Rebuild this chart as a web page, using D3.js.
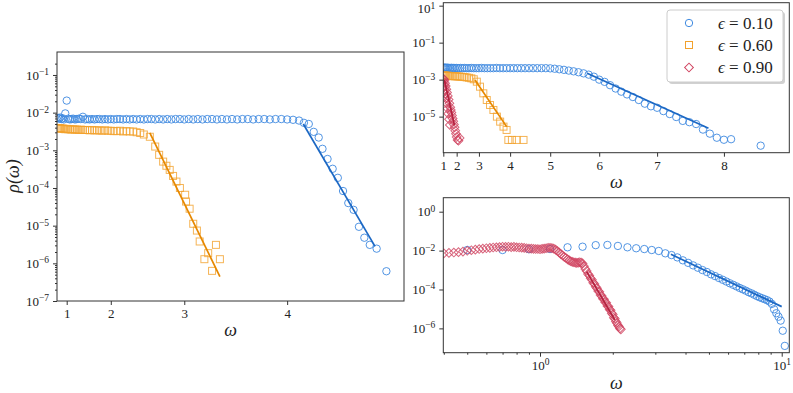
<!DOCTYPE html>
<html><head><meta charset="utf-8">
<script src="https://cdn.jsdelivr.net/npm/d3@7"></script>
<style>
body{margin:0;background:#fff}
svg{display:block}
text{font-family:"Liberation Serif","DejaVu Serif",serif;fill:#222}
</style>
</head><body>
<svg id="c" width="793" height="393" font-family="Liberation Serif, serif"></svg>
<script>
// ---------------- DATA (omega, and log10 of rho) ----------------
// Left panel, epsilon = 0.10
const leftBlueOmega = [0.65,0.70,0.75,0.80,0.85,0.90,0.95,1.00,1.05,1.10,1.15,1.20,1.25,1.30,1.35,1.40,1.45,1.50,1.55,1.60,1.65,1.70,1.75,1.80,1.85,1.90,1.95,2.00,2.05,2.10,2.15,2.20,2.25,2.30,2.35,2.40,2.45,2.50,2.55,2.60,2.65,2.70,2.75,2.80,2.85,2.90,2.95,3.00,3.05,3.10,3.15,3.20,3.25,3.30,3.35,3.40,3.45,3.50,3.55,3.60,3.65,3.70,3.75,3.80,3.85,3.90,3.95,4.00,4.05,4.10,4.14,4.18,4.22,4.26,4.29,4.33,4.37,4.41,4.45,4.49,4.53,4.57,4.61,4.65,4.70,4.77];
const leftBlueLogRho = [-2.14,-2.16,-2.13,-2.17,-2.15,-2.18,-2.02,-1.68,-2.16,-2.18,
 -2.17,-2.16,-2.18,-2.17,-2.16,-2.17,-2.11,-2.18,-2.17,-2.18,
 -2.17,-2.18,-2.17,-2.17,-2.18,-2.17,-2.18,-2.17,-2.18,-2.17,
 -2.17,-2.18,-2.17,-2.18,-2.17,-2.18,-2.17,-2.18,-2.17,-2.17,
 -2.18,-2.17,-2.18,-2.17,-2.18,-2.17,-2.17,-2.18,-2.17,-2.18,
 -2.17,-2.18,-2.17,-2.17,-2.18,-2.17,-2.18,-2.17,-2.18,-2.17,
 -2.17,-2.18,-2.17,-2.17,-2.18,-2.17,-2.17,-2.18,-2.19,-2.21,
 -2.27,-2.30,-2.51,-2.66,-2.96,-3.23,-3.49,-3.73,-4.08,-4.40,-4.58,-5.03,-5.32,-5.51,-5.61,-6.21];
const leftBlueFitOmega = [4.135, 4.688];
const leftBlueFitLogRho = [-2.30, -5.55];

// Left panel, epsilon = 0.60
const leftOrangeOmega = [0.65,0.70,0.75,0.80,0.85,0.90,0.95,1.00,1.05,1.10,1.15,1.20,1.25,1.30,1.35,1.40,1.45,1.50,1.55,1.60,1.65,1.70,1.75,1.80,1.85,1.90,1.95,2.00,2.05,2.10,2.15,2.20,2.25,2.30,2.35,2.40,2.45,2.50,2.58,2.65,2.70,2.75,2.79,2.83,2.87,2.91,2.95,3.01,3.02,3.06,3.10,3.14,3.17,3.22,3.26,3.30,3.34,3.38];
const leftOrangeLogRho = [-2.41,-2.42,-2.41,-2.43,-2.42,-2.43,-2.44,-2.43,-2.44,-2.44,
 -2.45,-2.44,-2.45,-2.45,-2.46,-2.45,-2.46,-2.46,-2.46,-2.47,
 -2.46,-2.47,-2.47,-2.47,-2.48,-2.47,-2.48,-2.48,-2.49,-2.49,
 -2.48,-2.50,-2.49,-2.50,-2.50,-2.52,-2.54,-2.58,
 -2.64,-2.90,-3.12,-3.30,-3.41,-3.52,-3.68,-3.83,-4.00,-4.18,-4.36,-4.55,-4.95,-5.13,-5.42,-5.89,-5.73,-6.20,-5.51,-5.89];
const leftOrangeFitOmega = [2.58, 3.38];
const leftOrangeFitLogRho = [-2.54, -6.35];

// Top-right panel
const trBlueOmega = [1.0,1.1,1.2,1.3,1.4,1.5,1.6,1.7,1.8,1.9,2.0,2.1,2.2,2.3,2.4,2.5,2.6,2.7,2.8,2.9,3.0,3.1,3.2,3.3,3.4,3.5,3.6,3.7,3.8,3.9,4.0,4.1,4.2,4.3,4.4,4.5,4.6,4.7,4.8,4.9,5.0,5.1,5.2,5.3,5.4,5.5,5.6,5.7,5.8,5.9,6.0,6.1,6.2,6.3,6.4,6.5,6.6,6.7,6.8,6.9,7.0,7.1,7.2,7.3,7.4,7.5,7.6,7.7,7.8,7.9,8.0,8.1,8.5];
const trBlueLogRho = [-2.35,-2.35,-2.36,-2.35,-2.36,-2.36,-2.37,-2.36,-2.37,-2.37,
 -2.37,-2.38,-2.37,-2.38,-2.37,-2.38,-2.38,-2.37,-2.38,-2.38,
 -2.38,-2.37,-2.38,-2.38,-2.38,-2.38,-2.37,-2.38,-2.38,-2.38,
 -2.38,-2.38,-2.38,-2.38,-2.38,-2.38,-2.38,-2.38,-2.38,-2.38,
 -2.39,-2.41,-2.44,-2.47,-2.51,-2.55,-2.60,-2.66,-2.73,-2.84,
 -3.00,-3.12,-3.30,-3.48,-3.65,-3.80,-3.94,-4.10,-4.30,-4.44,
 -4.52,-4.70,-4.86,-5.02,-5.23,-5.30,-5.40,-5.70,-5.92,-6.14,
 -6.25,-6.22,-6.57];
const trBlueFitOmega = [5.77, 7.78];
const trBlueFitLogRho = [-2.65, -5.63];

const trOrangeOmega = [1.0,1.1,1.2,1.3,1.4,1.5,1.6,1.7,1.8,1.9,2.0,2.1,2.2,2.3,2.4,2.5,2.6,2.7,2.8,2.92,3.04,3.16,3.28,3.39,3.50,3.61,3.71,3.81,3.90,3.95,4.05,4.18,4.36];
const trOrangeLogRho = [-2.77,-2.78,-2.78,-2.79,-2.79,-2.80,-2.80,-2.81,-2.81,-2.82,-2.82,-2.83,-2.84,-2.85,-2.86,-2.88,-2.90,-2.93,-2.98,
 -3.11,-3.38,-3.74,-4.10,-4.37,-4.64,-5.00,-5.27,-5.54,-5.72,-6.26,-6.26,-6.26,-6.26];
const trOrangeFitOmega = [2.85, 3.90];
const trOrangeFitLogRho = [-3.02, -5.54];

const trRedOmega = [1.00,1.03,1.06,1.09,1.12,1.15,1.18,1.21,1.24,1.27,1.30,1.33,1.36,1.39,1.42,1.45,1.48,1.51,1.54,1.57,1.60,1.64,1.68,1.72,1.76,1.80,1.84,1.88,1.92,1.96,2.00,2.05,2.10,2.16];
const trRedLogRho = [-2.95,-3.10,-2.98,-3.31,-3.03,-3.54,-3.19,-3.77,-3.35,-4.02,-3.52,-4.28,-3.70,-4.56,-3.88,-4.84,-4.08,-5.14,-4.28,-5.45,-4.49,-4.64,-4.78,-4.94,-5.10,-5.25,-5.42,-5.58,-5.76,-5.93,-6.10,-6.26,-6.30,-6.15];
const trRedFitOmega = [1.115, 1.875];
const trRedFitLogRho = [-3.02, -5.48];

// Bottom-right panel (log-log)
const brBlueOmega = [0.5,0.7,0.9,1.1,1.3,1.5,1.7,1.9,2.1,2.3,2.5,2.7,2.9,3.1,3.3,3.5,3.7,3.9,4.1,4.3,4.5,4.7,4.9,5.1,5.3,5.5,5.7,5.9,6.1,6.3,6.5,6.7,6.9,7.1,7.3,7.5,7.7,7.9,8.1,8.3,8.5,8.7,8.9,9.1,9.3,9.5,9.7,9.9,10.1,10.3];
const brBlueLogRho = [-1.97,-1.97,-1.93,-1.92,-1.83,-1.80,-1.72,-1.71,-1.76,-1.83,
 -1.88,-1.92,-1.97,-2.02,-2.14,-2.23,-2.35,-2.50,-2.63,-2.76,
 -2.88,-3.00,-3.10,-3.22,-3.31,-3.41,-3.50,-3.59,-3.68,-3.76,
 -3.84,-3.92,-3.99,-4.06,-4.14,-4.20,-4.27,-4.34,-4.40,-4.45,
 -4.50,-4.55,-4.62,-4.74,-5.02,-5.22,-5.40,-5.60,-6.12,-6.90];
const brBlueFitOmega = [3.48, 10.0];
const brBlueFitLogRho = [-2.19, -4.88];

const brRedOmega = [0.40,0.42,0.44,0.46,0.48,0.50,0.52,0.54,0.56,0.58,0.60,0.62,0.64,0.66,0.68,0.70,0.72,0.74,0.76,0.78,0.80,0.82,0.84,0.86,0.88,0.90,0.92,0.94,0.96,0.98,1.00,1.02,1.04,1.06,1.08,1.10,1.12,1.14,1.16,1.18,1.20,1.22,1.24,1.26,1.28,1.30,1.32,1.34,1.36,1.38,1.40,1.42,1.44,1.46,1.48,1.50,1.52,1.54,1.56,1.58,1.60,1.62,1.64,1.66,1.68,1.70,1.72,1.74,1.76,1.78,1.80,1.82,1.84,1.86,1.88,1.90,1.92,1.94,1.96,1.98,2.00,2.02,2.04,2.06,2.08,2.10,2.12,2.14,2.16];
const brRedLogRho = [-2.14,-2.12,-2.10,-2.08,-2.05,-2.01,-1.98,-1.95,-1.92,-1.90,
 -1.88,-1.86,-1.84,-1.83,-1.82,-1.80,-1.81,-1.80,-1.82,-1.81,
 -1.83,-1.84,-1.85,-1.86,-1.88,-1.89,-1.90,-1.91,-1.92,-1.92,
 -1.93,-1.91,-1.90,-1.88,-1.86,-1.86,-1.87,-1.90,-1.95,-2.02,
 -2.10,-2.18,-2.25,-2.32,-2.38,-2.45,-2.50,-2.55,-2.58,-2.60,
 -2.62,-2.63,-2.62,-2.60,-2.62,-2.66,-2.80,-2.95,-3.05,-3.20,
 -3.28,-3.42,-3.50,-3.65,-3.72,-3.86,-3.93,-4.08,-4.12,-4.28,
 -4.33,-4.47,-4.50,-4.65,-4.68,-4.85,-4.88,-5.03,-5.07,-5.22,
 -5.28,-5.45,-5.50,-5.65,-5.72,-5.84,-5.90,-6.00,-6.05];
const brRedFitOmega = [1.56, 2.04];
const brRedFitLogRho = [-3.08, -5.57];

const legendLabels = ["0.10", "0.60", "0.90"];
const leftYTicks = [1e-1,1e-2,1e-3,1e-4,1e-5,1e-6,1e-7];
const leftXTicks = [1,2,3,4];
const trYTicks = [1e1,1e-1,1e-3,1e-5];
const trXTicks = [1,2,3,4,5,6,7,8];
const brYTicks = [1,1e-2,1e-4,1e-6];
const brXTicks = [1,10];

// ---------------- STYLE ----------------
const COL = {
  blue:"#3f8ae0", blueLine:"#1c68c4",
  orange:"#f2a12c", orangeLine:"#e68800",
  red:"#d0425f", redLine:"#b3203e"
};
const SERIF = '"Liberation Serif","DejaVu Serif",serif';
const svg = d3.select("#c");
const pts = (om, lr) => om.map((w,i)=>({w, r: Math.pow(10, lr[i])}));

function powLabel(sel){
  sel.each(function(d){
    const e = Math.round(Math.log10(d));
    const t = d3.select(this);
    t.text(null);
    t.append("tspan").text("10");
    t.append("tspan").attr("dy","-0.5em").attr("font-size","9.5px").text(e<0 ? "\u2212"+(-e) : String(e));
  });
}

function panel(o){
  const g = svg.append("g");
  const id = "clip"+o.name;
  svg.append("clipPath").attr("id",id).append("rect")
    .attr("x",o.x0).attr("y",o.y0).attr("width",o.x1-o.x0).attr("height",o.y1-o.y0);
  const plot = g.append("g").attr("clip-path",`url(#${id})`);
  // axes
  const yAx = g.append("g").attr("transform",`translate(${o.x0},0)`)
    .call(d3.axisLeft(o.ys).tickValues(o.yTicks).tickSize(4).tickPadding(4));
  yAx.attr("font-family",SERIF);
  yAx.selectAll(".tick text").attr("font-size","13px").attr("font-family",SERIF).call(powLabel);
  if (o.yLabelShift) yAx.selectAll(".tick text").filter(d=>d===o.yLabelShift.v).attr("dy",o.yLabelShift.dy);
  if (o.yMinor){
    g.append("g").attr("transform",`translate(${o.x0},0)`)
      .call(d3.axisLeft(o.ys).tickValues(o.yMinor).tickSize(2).tickFormat(""))
      .select(".domain").remove();
  }
  const xAxis = d3.axisBottom(o.xs).tickValues(o.xTicks).tickSize(4).tickPadding(4);
  if (!o.xPow) xAxis.tickFormat(d3.format("d"));
  const xAx = g.append("g").attr("transform",`translate(0,${o.y1})`).call(xAxis);
  xAx.attr("font-family",SERIF);
  xAx.selectAll(".tick text").attr("font-size","13px").attr("font-family",SERIF);
  if (o.xPow) xAx.selectAll(".tick text").call(powLabel);
  if (o.xMinor){
    g.append("g").attr("transform",`translate(0,${o.y1})`)
      .call(d3.axisBottom(o.xs).tickValues(o.xMinor).tickSize(2).tickFormat(""))
      .select(".domain").remove();
  }
  g.selectAll(".domain").remove();
  g.selectAll(".tick line").attr("stroke","#333");
  // frame
  g.append("rect").attr("x",o.x0).attr("y",o.y0).attr("width",o.x1-o.x0).attr("height",o.y1-o.y0)
    .attr("fill","none").attr("stroke","#333").attr("stroke-width",1);
  // x label
  g.append("text").attr("x",(o.x0+o.x1)/2).attr("y",o.xLabelY).attr("text-anchor","middle")
    .attr("font-size","18px").attr("font-style","italic").text("\u03c9");
  return plot;
}

function circles(plot, data, xs, ys, color){
  plot.append("g").selectAll("circle").data(data).join("circle")
    .attr("cx",d=>xs(d.w)).attr("cy",d=>ys(d.r)).attr("r",3.7)
    .attr("fill","none").attr("stroke",color).attr("stroke-width",1).attr("stroke-opacity",0.9);
}
function squares(plot, data, xs, ys, color){
  const s = 7;
  plot.append("g").selectAll("rect").data(data).join("rect")
    .attr("x",d=>xs(d.w)-s/2).attr("y",d=>ys(d.r)-s/2).attr("width",s).attr("height",s)
    .attr("fill","none").attr("stroke",color).attr("stroke-width",1).attr("stroke-opacity",0.8);
}
function diamonds(plot, data, xs, ys, color){
  const sym = d3.symbol(d3.symbolSquare, 38);
  plot.append("g").selectAll("path").data(data).join("path")
    .attr("d",sym).attr("transform",d=>`translate(${xs(d.w)},${ys(d.r)}) rotate(45)`)
    .attr("fill","none").attr("stroke",color).attr("stroke-width",1).attr("stroke-opacity",0.8);
}
function fit(plot, data, xs, ys, color){
  plot.append("path").datum(data)
    .attr("d", d3.line().x(d=>xs(d.w)).y(d=>ys(d.r)))
    .attr("fill","none").attr("stroke",color).attr("stroke-width",1.7);
}

function logMinor(lo, hi){ // minor tick positions 2..9 x 10^k
  const v=[]; for(let k=lo;k<hi;k++) for(let m=2;m<=9;m++) v.push(m*Math.pow(10,k)); return v;
}

// ---------------- LEFT PANEL ----------------
{
  const xs = d3.scalePow().exponent(2).domain([0.583, 4.894]).range([57,404]);
  const ys = d3.scaleLog().domain([1e-7, Math.pow(10,-0.39)]).range([301,52]);
  const plot = panel({name:"L", x0:57,x1:404,y0:52,y1:301, xs, ys,
    yTicks:leftYTicks, xTicks:leftXTicks, yMinor:logMinor(-7,-1).concat([2e-1]), xLabelY:336});
  squares(plot, pts(leftOrangeOmega,leftOrangeLogRho), xs, ys, COL.orange);
  circles(plot, pts(leftBlueOmega,leftBlueLogRho), xs, ys, COL.blue);
  fit(plot, pts(leftOrangeFitOmega,leftOrangeFitLogRho), xs, ys, COL.orangeLine);
  fit(plot, pts(leftBlueFitOmega,leftBlueFitLogRho), xs, ys, COL.blueLine);
  svg.append("text").attr("transform","translate(19,176) rotate(-90)").attr("text-anchor","middle")
    .attr("font-size","18px").attr("font-style","italic").text("\u03c1(\u03c9)");
}

// ---------------- TOP-RIGHT PANEL ----------------
{
  const xs = d3.scalePow().exponent(2).domain([1, 8.87]).range([443.3,789.3]);
  const ys = d3.scaleLog().domain([Math.pow(10,-6.95), Math.pow(10,1.16)]).range([152.7,2.7]);
  const plot = panel({name:"TR", x0:443.3,x1:789.3,y0:2.7,y1:152.7, xs, ys,
    yTicks:trYTicks, xTicks:trXTicks, xLabelY:188, yLabelShift:{v:1e1, dy:"0.55em"}});
  circles(plot, pts(trBlueOmega,trBlueLogRho), xs, ys, COL.blue);
  squares(plot, pts(trOrangeOmega,trOrangeLogRho), xs, ys, COL.orange);
  diamonds(plot, pts(trRedOmega,trRedLogRho), xs, ys, COL.red);
  fit(plot, pts(trBlueFitOmega,trBlueFitLogRho), xs, ys, COL.blueLine);
  fit(plot, pts(trOrangeFitOmega,trOrangeFitLogRho), xs, ys, COL.orangeLine);
  fit(plot, pts(trRedFitOmega,trRedFitLogRho), xs, ys, COL.redLine);

  // legend
  const lg = svg.append("g");
  lg.append("rect").attr("x",669).attr("y",12).attr("width",116).attr("height",72).attr("rx",3)
    .attr("fill","#999").attr("opacity",0.45);
  lg.append("rect").attr("x",667).attr("y",10).attr("width",116).attr("height",72).attr("rx",3)
    .attr("fill","#fff").attr("stroke","#ccc").attr("stroke-width",1);
  const rows = [23,45,67.5];
  const cols = [COL.blue, COL.orange, COL.red];
  rows.forEach((y,i)=>{
    const mx = 689;
    if (i===0) lg.append("circle").attr("cx",mx).attr("cy",y).attr("r",3.7).attr("fill","none").attr("stroke",cols[i]);
    if (i===1) lg.append("rect").attr("x",mx-3.5).attr("y",y-3.5).attr("width",7).attr("height",7).attr("fill","none").attr("stroke",cols[i]);
    if (i===2) lg.append("path").attr("d",d3.symbol(d3.symbolSquare,38)()).attr("transform",`translate(${mx},${y}) rotate(45)`).attr("fill","none").attr("stroke",cols[i]);
    const t = lg.append("text").attr("x",718).attr("y",y+5.5).attr("font-size","17px");
    t.append("tspan").attr("font-style","italic").text("\u03f5");
    t.append("tspan").text(" = " + legendLabels[i]);
  });
}

// ---------------- BOTTOM-RIGHT PANEL ----------------
{
  const xs = d3.scaleLog().domain([0.398, 10.75]).range([443.3,789.3]);
  const ys = d3.scaleLog().domain([Math.pow(10,-7.25), Math.pow(10,0.72)]).range([352.7,197.7]);
  const xMinor = [0.4,0.5,0.6,0.7,0.8,0.9,2,3,4,5,6,7,8,9];
  const plot = panel({name:"BR", x0:443.3,x1:789.3,y0:197.7,y1:352.7, xs, ys,
    yTicks:brYTicks, xTicks:brXTicks, xPow:true, xMinor, xLabelY:389});
  circles(plot, pts(brBlueOmega,brBlueLogRho), xs, ys, COL.blue);
  diamonds(plot, pts(brRedOmega,brRedLogRho), xs, ys, COL.red);
  fit(plot, pts(brBlueFitOmega,brBlueFitLogRho), xs, ys, COL.blueLine);
  fit(plot, pts(brRedFitOmega,brRedFitLogRho), xs, ys, COL.redLine);
}
</script>
</body></html>
